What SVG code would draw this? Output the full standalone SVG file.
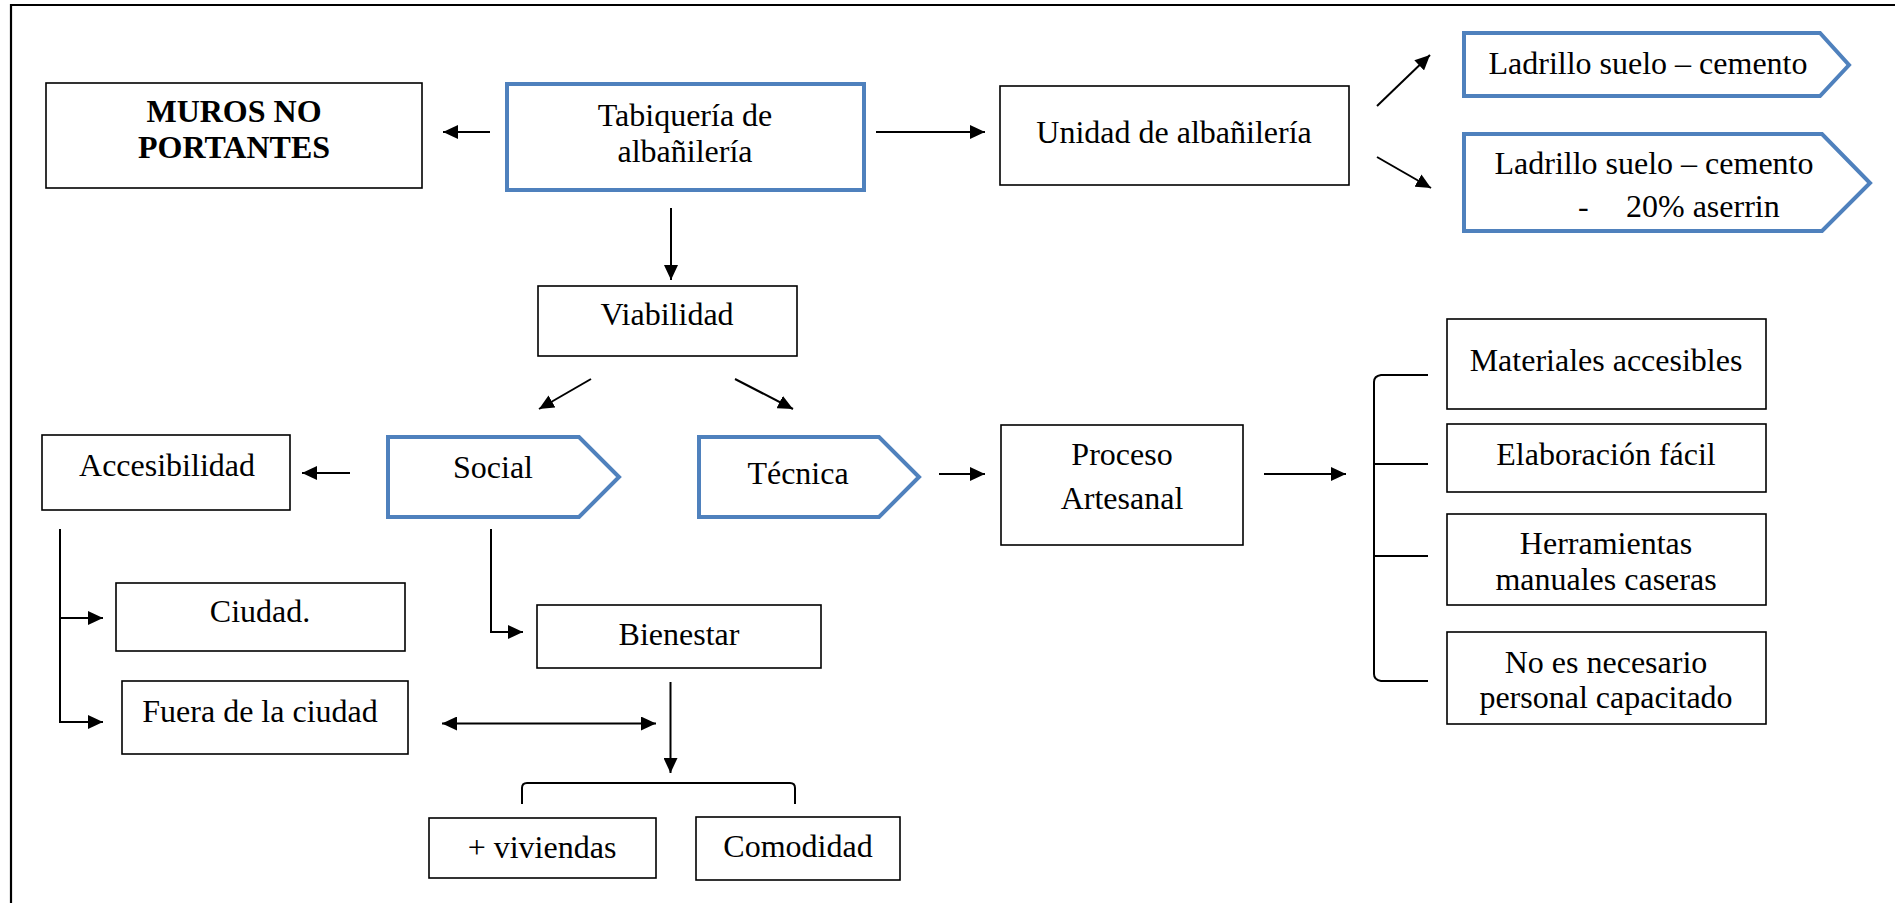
<svg xmlns="http://www.w3.org/2000/svg" width="1895" height="903" viewBox="0 0 1895 903">
  <defs>
    <marker id="arrow" markerUnits="userSpaceOnUse" markerWidth="16" markerHeight="14" refX="15" refY="7" orient="auto-start-reverse">
      <path d="M0,0 L15,7 L0,14 Z" fill="#000"/>
    </marker>
    <style>
      .box { fill: #fff; stroke: #000; stroke-width: 1.6; }
      .hl { fill: #fff; stroke: #4F81BD; stroke-width: 4; stroke-linejoin: miter; }
      text { font-family: "Liberation Serif", "Times New Roman", serif; font-size: 32px; fill: #000; }
      .c { text-anchor: middle; }
      .b { font-weight: bold; }
      .ln { fill: none; stroke: #000; stroke-width: 2; }
      .arr { marker-end: url(#arrow); }
    </style>
  </defs>

  <rect width="1895" height="903" fill="#fff"/>
  <!-- frame: left and top edges -->
  <path d="M11,903 V5 H1895" fill="none" stroke="#000" stroke-width="2.2"/>

  <g id="connectors">
    <line class="ln arr" x1="490" y1="132" x2="443" y2="132"/>
    <line class="ln arr" x1="876" y1="132" x2="985" y2="132"/>
    <line class="ln arr" x1="671" y1="208" x2="671" y2="280"/>
    <line class="ln arr" x1="1377" y1="106" x2="1430" y2="55"/>
    <line class="ln arr" x1="1377" y1="157" x2="1431" y2="188"/>
    <line class="ln arr" x1="591" y1="379" x2="539" y2="409"/>
    <line class="ln arr" x1="735" y1="379" x2="793" y2="409"/>
    <line class="ln arr" x1="350" y1="473" x2="302" y2="473"/>
    <line class="ln arr" x1="939" y1="474" x2="985" y2="474"/>
    <line class="ln arr" x1="1264" y1="474" x2="1346" y2="474"/>
    <path class="ln arr" d="M60,529 V722 H103"/>
    <path class="ln arr" d="M60,618 H103"/>
    <path class="ln arr" d="M491,529 V632 H523"/>
    <line class="ln" x1="442" y1="723.5" x2="656" y2="723.5" marker-start="url(#arrow)" marker-end="url(#arrow)"/>
    <line class="ln arr" x1="670.5" y1="682" x2="670.5" y2="773"/>
    <path class="ln" d="M522,804 V788 Q522,783 527,783 H790 Q795,783 795,788 V804"/>
    <path class="ln" d="M1428,375 H1381 Q1374,376 1374,382 V674 Q1374,680 1381,681 H1428"/>
    <path class="ln" d="M1374,464 H1428 M1374,556 H1428"/>
  </g>

  <g id="muros">
    <rect class="box" x="46" y="83" width="376" height="105"/>
    <text class="c b" x="234" y="122">MUROS NO</text>
    <text class="c b" x="234" y="158">PORTANTES</text>
  </g>

  <g id="tabiqueria">
    <rect class="hl" x="507" y="84" width="357" height="106"/>
    <text class="c" x="685" y="126">Tabiquería de</text>
    <text class="c" x="685" y="162">albañilería</text>
  </g>

  <g id="unidad">
    <rect class="box" x="1000" y="86" width="349" height="99"/>
    <text class="c" x="1174" y="143">Unidad de albañilería</text>
  </g>

  <g id="ladrillo1">
    <path class="hl" d="M1464,33 H1820 L1849,65 L1820,96 H1464 Z"/>
    <text class="c" x="1648" y="74">Ladrillo suelo – cemento</text>
  </g>

  <g id="ladrillo2">
    <path class="hl" d="M1464,134 H1822 L1870,183 L1822,231 H1464 Z"/>
    <text class="c" x="1654" y="174">Ladrillo suelo – cemento</text>
    <text y="217"><tspan x="1578">-</tspan><tspan x="1626">20% aserrin</tspan></text>
  </g>

  <g id="viabilidad">
    <rect class="box" x="538" y="286" width="259" height="70"/>
    <text class="c" x="667" y="325">Viabilidad</text>
  </g>

  <g id="accesibilidad">
    <rect class="box" x="42" y="435" width="248" height="75"/>
    <text class="c" x="167" y="476">Accesibilidad</text>
  </g>

  <g id="social">
    <path class="hl" d="M388,437 H579 L619,477 L579,517 H388 Z"/>
    <text class="c" x="493" y="478">Social</text>
  </g>

  <g id="tecnica">
    <path class="hl" d="M699,437 H879 L919,477 L879,517 H699 Z"/>
    <text class="c" x="798" y="484">Técnica</text>
  </g>

  <g id="proceso">
    <rect class="box" x="1001" y="425" width="242" height="120"/>
    <text class="c" x="1122" y="465">Proceso</text>
    <text class="c" x="1122" y="509">Artesanal</text>
  </g>

  <g id="materiales">
    <rect class="box" x="1447" y="319" width="319" height="90"/>
    <text class="c" x="1606" y="371">Materiales accesibles</text>
  </g>

  <g id="elaboracion">
    <rect class="box" x="1447" y="424" width="319" height="68"/>
    <text class="c" x="1606" y="465">Elaboración fácil</text>
  </g>

  <g id="herramientas">
    <rect class="box" x="1447" y="514" width="319" height="91"/>
    <text class="c" x="1606" y="554">Herramientas</text>
    <text class="c" x="1606" y="590">manuales caseras</text>
  </g>

  <g id="personal">
    <rect class="box" x="1447" y="632" width="319" height="92"/>
    <text class="c" x="1606" y="673">No es necesario</text>
    <text class="c" x="1606" y="708">personal capacitado</text>
  </g>

  <g id="ciudad">
    <rect class="box" x="116" y="583" width="289" height="68"/>
    <text class="c" x="260" y="622">Ciudad.</text>
  </g>

  <g id="fuera">
    <rect class="box" x="122" y="681" width="286" height="73"/>
    <text class="c" x="260" y="722">Fuera de la ciudad</text>
  </g>

  <g id="bienestar">
    <rect class="box" x="537" y="605" width="284" height="63"/>
    <text class="c" x="679" y="645">Bienestar</text>
  </g>

  <g id="viviendas">
    <rect class="box" x="429" y="818" width="227" height="60"/>
    <text class="c" x="542" y="858">+ viviendas</text>
  </g>

  <g id="comodidad">
    <rect class="box" x="696" y="817" width="204" height="63"/>
    <text class="c" x="798" y="857">Comodidad</text>
  </g>
</svg>
